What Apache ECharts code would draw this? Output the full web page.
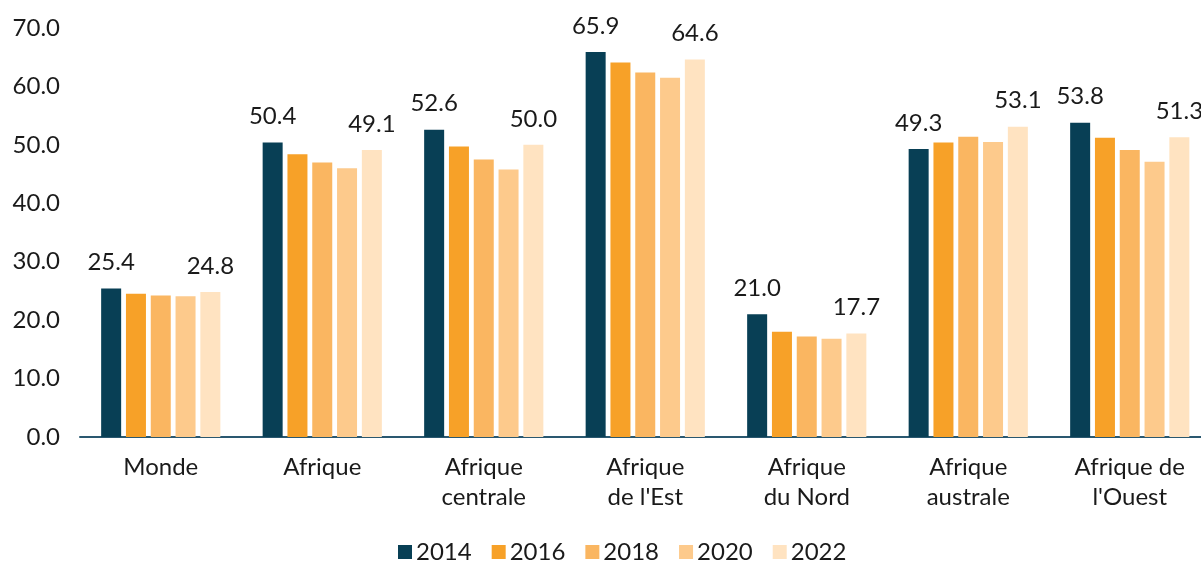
<!DOCTYPE html>
<html>
<head>
<meta charset="utf-8">
<script src="https://cdn.jsdelivr.net/npm/echarts@6/dist/echarts.min.js"></script>
<style>
  html, body { margin: 0; padding: 0; background: #fff; overflow: hidden; }
  #chart { width: 1220px; height: 562px; }
</style>
</head>
<body>
<div id="chart"></div>
<script>
// regions
var categories = ['Monde', 'Afrique', 'Afrique\ncentrale', 'Afrique\nde l\'Est', 'Afrique\ndu Nord', 'Afrique\naustrale', 'Afrique de\nl\'Ouest'];
var years = ['2014', '2016', '2018', '2020', '2022'];

// values per year
var v2014 = [25.4, 50.4, 52.6, 65.9, 21.0, 49.3, 53.8];
var v2016 = [24.5, 48.4, 49.7, 64.1, 18.0, 50.4, 51.2];
var v2018 = [24.2, 47.0, 47.5, 62.4, 17.2, 51.4, 49.1];
var v2020 = [24.1, 46.0, 45.8, 61.5, 16.8, 50.5, 47.1];
var v2022 = [24.8, 49.1, 50.0, 64.6, 17.7, 53.1, 51.3];

var colors = ['#083f55', '#f7a128', '#fab661', '#fdca8c', '#ffe3c1'];
var yTicks = [0, 70, 10]; // min, max, interval

var chart = echarts.init(document.getElementById('chart'));

// build series
var allVals = [v2014, v2016, v2018, v2020, v2022];
var series = [];
for (var i = 0; i < years.length; i++) {
  var showLbl = (i === 0 || i === years.length - 1);
  series.push({
    name: years[i],
    type: 'bar',
    data: allVals[i],
    barWidth: 20,
    barGap: '24%',
    itemStyle: { color: colors[i] },
    label: {
      show: showLbl,
      position: 'top',
      distance: 14,
      color: '#1a1a1a',
      fontSize: 24,
      fontFamily: 'Lato',
      formatter: function (p) { return p.value.toFixed(1); }
    }
  });
}

chart.setOption({
  animation: false,
  textStyle: { fontFamily: 'Lato' },
  grid: { left: 80, top: 28, right: 9.5, bottom: 125 },
  legend: {
    left: 393,
    top: 535,
    itemWidth: 14,
    itemHeight: 14,
    itemGap: 20,
    icon: 'rect',
    textStyle: { fontSize: 24, color: '#1a1a1a', fontFamily: 'Lato', padding: [0, 0, 0, -1] },
    data: years
  },
  xAxis: {
    type: 'category',
    data: categories,
    axisLine: { lineStyle: { color: '#2a5870', width: 2 } },
    axisTick: { show: false },
    axisLabel: { fontSize: 24, color: '#1a1a1a', lineHeight: 30, margin: 15, interval: 0 }
  },
  yAxis: {
    type: 'value',
    min: yTicks[0],
    max: yTicks[1],
    interval: yTicks[2],
    splitLine: { show: false },
    axisLine: { show: false },
    axisTick: { show: false },
    axisLabel: {
      fontSize: 24,
      color: '#1a1a1a',
      margin: 20,
      formatter: function (v) { return v.toFixed(1); }
    }
  },
  series: series
});
</script>
</body>
</html>
